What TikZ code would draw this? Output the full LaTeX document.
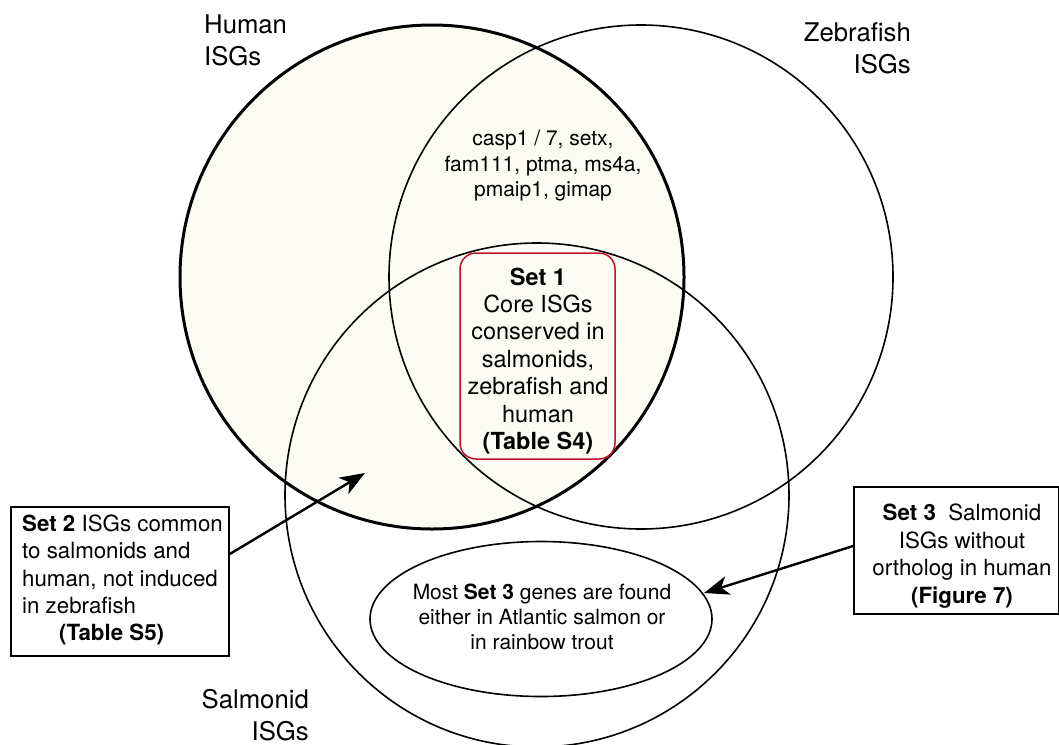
\documentclass[tikz,border=0pt]{standalone}
\usepackage{fontspec}
\setmainfont{TeX Gyre Heros}
\usetikzlibrary{arrows.meta,shapes.geometric}
\definecolor{cream}{RGB}{252,252,245}
\definecolor{setred}{RGB}{196,18,44}
\tikzset{
  venn/.style={draw, circle, minimum size=504pt, inner sep=0pt, line width=1.6pt},
  lbl/.style={inner sep=0pt, font=\fontsize{25.7}{32}\selectfont},
  infobox/.style={draw, line width=1.6pt, inner sep=0pt},
  arrowline/.style={line width=2.4pt, -{Stealth[length=25pt,width=19pt,inset=7pt]}},
}
\begin{document}
\begin{tikzpicture}[x=1pt,y=-1pt]
\useasboundingbox (0,0) rectangle (1059,744);
% human fill
\fill[cream] (432,277) circle (252);
\node[venn] (zebra) at (641,277) {};
\node[venn] (salmon) at (537,495) {};
\node[venn, line width=3pt] (human) at (432,277) {};
% labels
\node[lbl, anchor=west, align=left] (hlab) at (204,40) {Human\\ISGs};
\node[lbl, anchor=east, align=right] (zlab) at (911,48) {Zebrafish\\ISGs};
\node[lbl, anchor=east, align=right] (slab) at (309,715) {Salmonid\\ISGs};
% gene list
\node[inner sep=0pt, align=center, font=\fontsize{21}{25.5}\selectfont] (genes) at (543,166)
  {casp1 / 7, setx,\\fam111, ptma, ms4a,\\pmaip1, gimap};
% set 1
\node[draw=setred, line width=1.5pt, rounded corners=16pt, fill=cream, minimum width=155pt, minimum height=206pt, inner sep=0pt] (set1box) at (537.5,356) {};
\node[inner sep=0pt, align=center, font=\fontsize{23.5}{27.4}\selectfont] (set1) at (538,361)
  {\textbf{Set 1}\\Core ISGs\\conserved in\\salmonids,\\zebrafish and\\human\\\textbf{(Table S4)}};
% ellipse
\node[draw, ellipse, line width=1.6pt, minimum width=342pt, minimum height=155pt, inner sep=0pt] (ell) at (541,619) {};
\node[inner sep=0pt, align=center, font=\fontsize{21}{25}\selectfont] (elltext) at (542,617)
  {Most \textbf{Set 3} genes are found\\either in Atlantic salmon or\\in rainbow trout};
% set 2 box
\node[infobox, minimum width=218pt, minimum height=149pt] (set2box) at (120,581.5) {};
\node[inner sep=0pt, anchor=west, align=left, font=\fontsize{22.3}{27.2}\selectfont] (set2) at (22,580)
  {\textbf{Set 2} ISGs common\\to salmonids and\\human, not induced\\in zebrafish\\\hspace*{37pt}\textbf{(Table S5)}};
% set 3 box
\node[infobox, minimum width=205pt, minimum height=127pt] (set3box) at (956.5,550.5) {};
\node[inner sep=0pt, align=center, font=\fontsize{22.3}{27.5}\selectfont] (set3) at (962,556)
  {\textbf{Set 3}\ \ Salmonid\\ISGs without\\ortholog in human\\\textbf{(Figure 7)}};
% arrows
\coordinate (t2) at (365,473);
\coordinate (t3) at (704,593);
\draw[arrowline] ([yshift=27.5pt]set2box.east) -- (t2);
\draw[arrowline] ([yshift=4.5pt]set3box.west) -- (t3);
\end{tikzpicture}
\end{document}
